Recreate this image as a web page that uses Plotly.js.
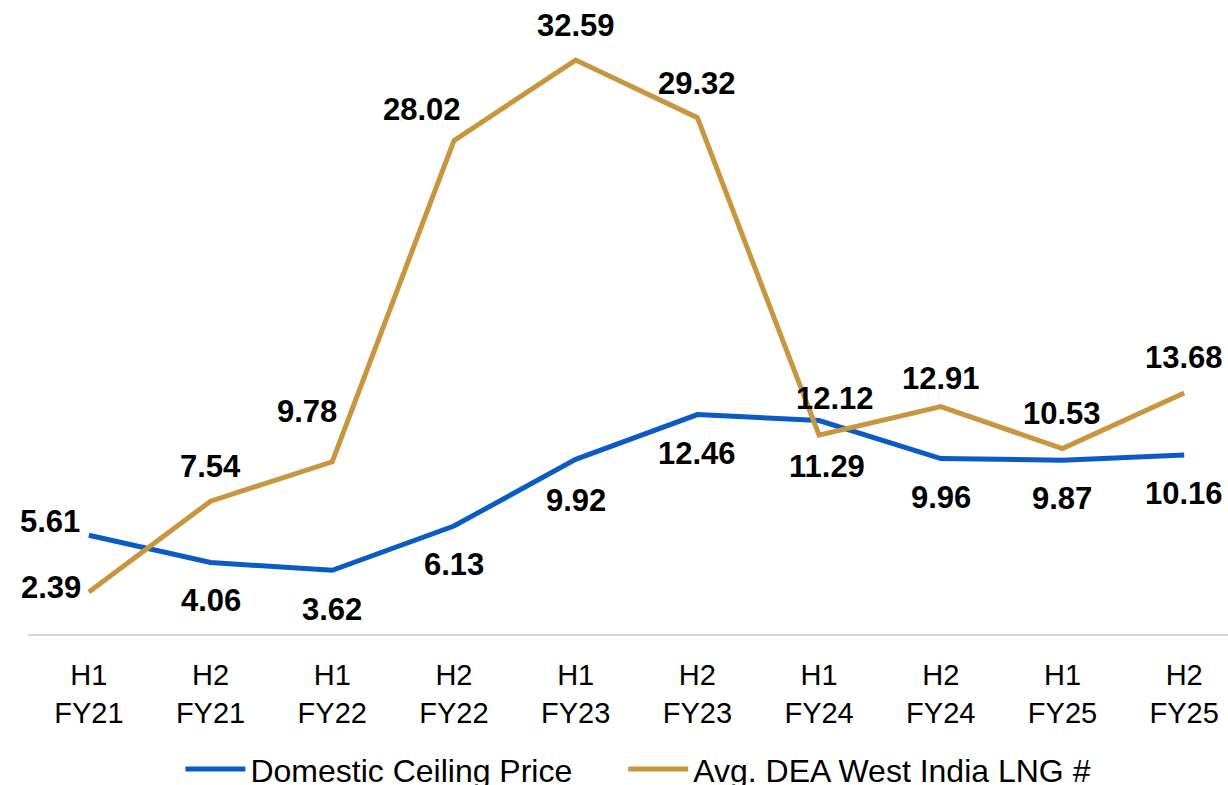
<!DOCTYPE html>
<html>
<head>
<meta charset="utf-8">
<script src="https://cdn.plot.ly/plotly-3.0.1.min.js"></script>
<style>
  html, body { margin: 0; padding: 0; background: #fff; overflow: hidden; }
  #chart { width: 1228px; height: 830px; }
</style>
</head>
<body>
<div id="chart"></div>
<script>
// Half-year periods on the x axis
const periods = ["H1 FY21", "H2 FY21", "H1 FY22", "H2 FY22", "H1 FY23",
                 "H2 FY23", "H1 FY24", "H2 FY24", "H1 FY25", "H2 FY25"];
const periodLabels = ["H1<br>FY21", "H2<br>FY21", "H1<br>FY22", "H2<br>FY22", "H1<br>FY23",
                      "H2<br>FY23", "H1<br>FY24", "H2<br>FY24", "H1<br>FY25", "H2<br>FY25"];

// Series values
const ceilingName = "Domestic Ceiling Price";
const ceilingPrice = [5.61, 4.06, 3.62, 6.13, 9.92, 12.46, 12.12, 9.96, 9.87, 10.16];

const lngName = "Avg. DEA West India LNG #";
const lngPrice = [2.39, 7.54, 9.78, 28.02, 32.59, 29.32, 11.29, 12.91, 10.53, 13.68];

// Label offsets in pixels from each point: [xshift, yshift]
const ceilingLabelShift = [[-39, 14], [0, -38], [0, -39], [0, -38], [0, -41],
                           [0, -39], [16, 22], [0, -39], [0, -38], [0, -38]];
const lngLabelShift = [[-38, 4], [0, 35], [-25, 50], [-32, 31], [0, 35],
                       [0, 34], [8, -31], [0, 28], [0, 35], [0, 36]];

const BLUE = "#0A5BC4";
const GOLD = "#C8963E";
const FONT = "Arial, 'Liberation Sans', sans-serif";

function valueLabels(values, shifts) {
  return values.map((v, i) => ({
    x: periods[i],
    y: v,
    xref: "x",
    yref: "y",
    text: "<b>" + v.toFixed(2) + "</b>",
    showarrow: false,
    xanchor: "center",
    yanchor: "middle",
    xshift: shifts[i][0],
    yshift: shifts[i][1],
    font: { family: FONT, size: 31, color: "#000" }
  }));
}

const traces = [
  {
    x: periods, y: ceilingPrice, name: ceilingName,
    type: "scatter", mode: "lines",
    line: { color: BLUE, width: 5 },
    legend: "legend",
    hoverinfo: "skip"
  },
  {
    x: periods, y: lngPrice, name: lngName,
    type: "scatter", mode: "lines",
    line: { color: GOLD, width: 5 },
    legend: "legend2",
    hoverinfo: "skip"
  }
];

// Shared legend styling; each series gets its own legend box below the axis
function legendBox(x) {
  return {
    orientation: "h",
    x: x, xanchor: "left",
    y: -0.170, yanchor: "top",
    font: { family: FONT, size: 32, color: "#000" },
    itemwidth: 60,
    bgcolor: "rgba(0,0,0,0)"
  };
}

const layout = {
  width: 1228,
  height: 830,
  margin: { l: 28, r: 0, t: 0, b: 196 },
  paper_bgcolor: "#fff",
  plot_bgcolor: "#fff",
  font: { family: FONT, color: "#000" },
  showlegend: true,
  legend: legendBox(0.127),
  legend2: legendBox(0.496),
  xaxis: {
    type: "category",
    range: [-0.5, 9.36],
    tickvals: periods,
    ticktext: periodLabels,
    tickfont: { family: FONT, size: 29, color: "#000" },
    ticks: "",
    ticklabelstandoff: 14,
    showline: true,
    linecolor: "#D9D9D9",
    linewidth: 2,
    showgrid: false,
    zeroline: false,
    fixedrange: true
  },
  yaxis: {
    range: [0, 36],
    visible: false,
    showgrid: false,
    zeroline: false,
    fixedrange: true
  },
  annotations: valueLabels(ceilingPrice, ceilingLabelShift)
    .concat(valueLabels(lngPrice, lngLabelShift))
};

Plotly.newPlot("chart", traces, layout, { displayModeBar: false, staticPlot: true });
</script>
</body>
</html>
